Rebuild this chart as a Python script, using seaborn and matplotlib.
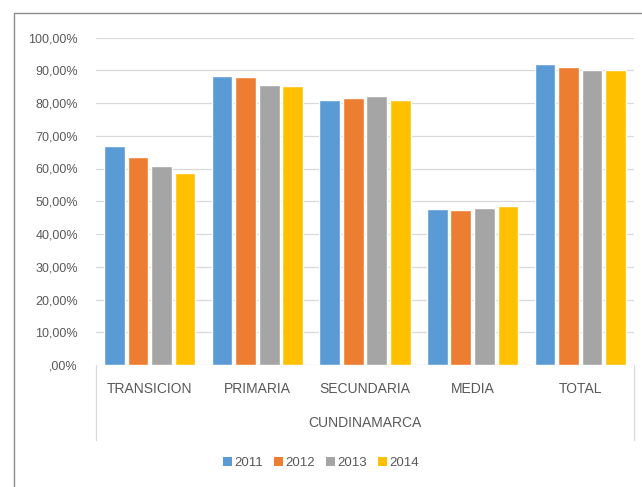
import numpy as np
import pandas as pd
import matplotlib
matplotlib.use("Agg")
import matplotlib.pyplot as plt
import seaborn as sb
from matplotlib import font_manager
from matplotlib.lines import Line2D
from matplotlib.patches import Patch

# data
categories = ["TRANSICION", "PRIMARIA", "SECUNDARIA", "MEDIA", "TOTAL"]
years = ["2011", "2012", "2013", "2014"]
v2011 = [67.0, 88.2, 81.0, 47.6, 92.0]
v2012 = [63.4, 87.9, 81.5, 47.4, 91.0]
v2013 = [60.9, 85.6, 82.0, 47.9, 90.2]
v2014 = [58.6, 85.1, 81.0, 48.6, 90.0]
y_ticks = [0, 10, 20, 30, 40, 50, 60, 70, 80, 90, 100]
y_tick_labels = [",00%", "10,00%", "20,00%", "30,00%", "40,00%", "50,00%",
                 "60,00%", "70,00%", "80,00%", "90,00%", "100,00%"]
group_label = "CUNDINAMARCA"
colors = ["#5B9BD5", "#ED7D31", "#A5A5A5", "#FFC000"]

rows = []
for y, vals in zip(years, [v2011, v2012, v2013, v2014]):
    for c, v in zip(categories, vals):
        rows.append({"Nivel": c, "Year": y, "Valor": v})
df = pd.DataFrame(rows)

sb.set_style("white")
installed = {f.name for f in font_manager.fontManager.ttflist}
narrow = "Liberation Sans Narrow" if "Liberation Sans Narrow" in installed else "Liberation Sans"
plt.rcParams["font.family"] = ["Liberation Sans", "DejaVu Sans"]
txt = "#595959"

fig = plt.figure(figsize=(6.42, 4.87), dpi=100)
ax = fig.add_axes([96 / 642, 1 - 365 / 487, 538 / 642, 327.5 / 487])

sb.barplot(data=df, x="Nivel", y="Valor", hue="Year", palette=colors,
           width=0.875, gap=0.12, ax=ax, legend=False, saturation=1)

ax.set_xlim(-0.5, len(categories) - 0.5)
ax.set_ylim(0, 100)
ax.set_yticks(y_ticks)
ax.set_yticklabels(y_tick_labels, fontsize=9, color=txt, family=narrow)
ax.yaxis.grid(True, color="#d9d9d9", lw=0.9)
ax.set_axisbelow(True)
for s in ax.spines.values():
    s.set_visible(False)
ax.tick_params(axis="y", length=0, pad=13)
ax.tick_params(axis="x", length=0, pad=12, labelsize=10, labelcolor=txt)
ax.set_ylabel("")
ax.set_xlabel(group_label, fontsize=10, color=txt)
ax.xaxis.set_label_coords(0.5, -0.177)
ax.xaxis.label.set_va("center")

# multi-level category separators
for xx in [0, 1]:
    ax.plot([xx, xx], [0, -0.229], transform=ax.transAxes, color="#d9d9d9",
            lw=0.9, clip_on=False)

handles = [Patch(facecolor=c, edgecolor="none") for c in colors]
fig.legend(handles, years, loc="center", bbox_to_anchor=(0.5, 1 - 463 / 487),
           ncol=4, frameon=False, fontsize=9.5, labelcolor=txt,
           handlelength=0.7, handleheight=0.7, handletextpad=0.2,
           columnspacing=0.8)

# chart frame
fig.add_artist(Line2D([14 / 642, 14 / 642], [0, 1 - 13 / 487],
                      transform=fig.transFigure, color="#8c8c8c", lw=1))
fig.add_artist(Line2D([14 / 642, 1], [1 - 13 / 487, 1 - 13 / 487],
                      transform=fig.transFigure, color="#8c8c8c", lw=1))

fig.savefig("out.png", dpi=100)
